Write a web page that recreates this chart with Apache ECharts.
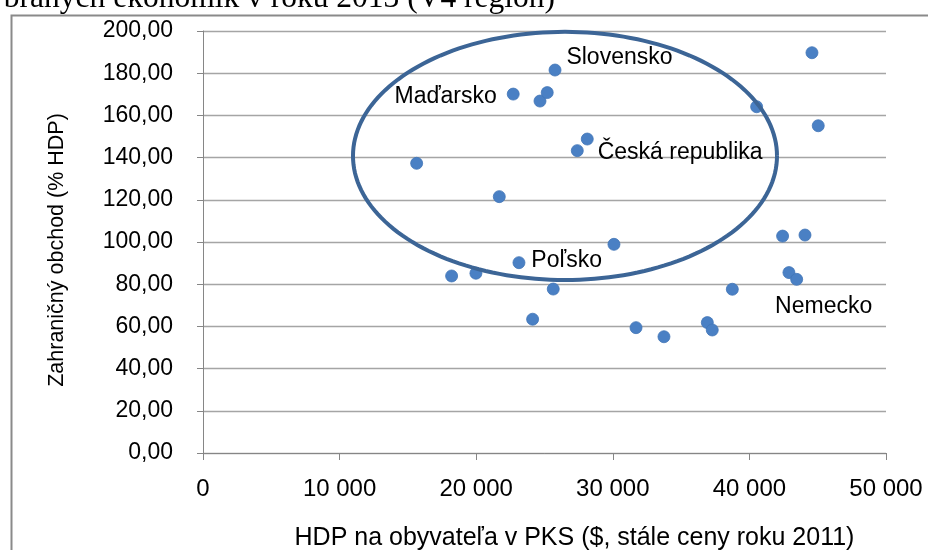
<!DOCTYPE html>
<html>
<head>
<meta charset="utf-8">
<script src="https://cdn.jsdelivr.net/npm/echarts@6/dist/echarts.min.js"></script>
<style>
html,body{margin:0;padding:0;background:#fff;}
#chart{width:928px;height:550px;}
</style>
</head>
<body>
<div id="chart"></div>
<script>
// ---- data ----
const gdpPerCapita = [15640, 18200, 19980, 21690, 22710, 23130, 24130, 24670, 25200, 25640, 25770, 27400, 28130, 30085, 31700, 33745, 36920, 37280, 38750, 40530, 42430, 42895, 43460, 44070, 44580, 45040];
const foreignTrade = [137.3, 83.9, 85.2, 121.5, 170.1, 90.2, 63.4, 166.8, 170.8, 77.7, 181.5, 143.3, 148.8, 98.9, 59.4, 55.1, 61.8, 58.3, 77.6, 164.1, 102.8, 85.5, 82.3, 103.3, 189.7, 155.1];
const pointNames = ['', '', '', '', 'Maďarsko', 'Poľsko', '', '', '', '', 'Slovensko', 'Česká republika', '', '', '', '', '', '', '', '', '', '', 'Nemecko', '', '', ''];
const xTicks = [0, 10000, 20000, 30000, 40000, 50000];
const yTicks = [0, 20, 40, 60, 80, 100, 120, 140, 160, 180, 200];
const titleText = 'vybraných ekonomík v roku 2013 (V4 región)';
const xTitle = 'HDP na obyvateľa v PKS ($, stále ceny roku 2011)';
const yTitle = 'Zahraničný obchod (% HDP)';
// highlighted V4 region (ellipse in data units): centre x, centre y, radius x, radius y
const v4Ellipse = {cx: 26500, cy: 140.8, rx: 15520, ry: 58.8};

// ---- label placement (style) ----
const labelStyle = {
  'Maďarsko': {position: 'left', distance: 10, offset: [0, 3]},
  'Poľsko': {position: 'right', distance: 6, offset: [0, -2]},
  'Slovensko': {position: 'right', distance: 5, offset: [0, -12]},
  'Česká republika': {position: 'right', distance: 14, offset: [0, 2]},
  'Nemecko': {position: 'bottom', distance: 9, offset: [27, 0]}
};

const chart = echarts.init(document.getElementById('chart'), null, {renderer: 'canvas'});
const sans = "'Liberation Sans', Arial, sans-serif";
const gridColor = '#a5a5a5';

const seriesData = gdpPerCapita.map((x, i) => {
  const item = {value: [x, foreignTrade[i]], name: pointNames[i]};
  if (pointNames[i]) {
    const ls = labelStyle[pointNames[i]];
    item.label = Object.assign({show: true, formatter: '{b}', color: '#000', fontFamily: sans, fontSize: 23}, ls);
  }
  return item;
});

const option = {
  animation: false,
  backgroundColor: '#fff',
  grid: {left: 203, right: 42, top: 31, bottom: 97, outerBoundsMode: 'none', containLabel: false},
  xAxis: {
    type: 'value', min: xTicks[0], max: xTicks[xTicks.length - 1], interval: xTicks[1] - xTicks[0],
    axisLine: {show: true, lineStyle: {color: '#868686', width: 1}},
    axisTick: {show: true, length: 7, lineStyle: {color: '#868686'}},
    splitLine: {show: false},
    axisLabel: {
      color: '#000', fontFamily: sans, fontSize: 24, margin: 24,
      formatter: v => String(v).replace(/\B(?=(\d{3})+(?!\d))/g, ' ')
    },
    name: xTitle, nameLocation: 'middle', nameGap: 73,
    nameTextStyle: {color: '#000', fontFamily: sans, fontSize: 25, padding: [0, 0, 0, 60]}
  },
  yAxis: {
    type: 'value', min: yTicks[0], max: yTicks[yTicks.length - 1], interval: yTicks[1] - yTicks[0],
    axisLine: {show: true, lineStyle: {color: '#868686', width: 1}},
    axisTick: {show: true, length: 6, lineStyle: {color: '#868686'}},
    splitLine: {show: true, lineStyle: {color: gridColor, width: 1.3}},
    axisLabel: {
      color: '#000', fontFamily: sans, fontSize: 23, margin: 30,
      formatter: v => v.toFixed(2).replace('.', ',')
    },
    name: yTitle, nameLocation: 'middle', nameGap: 135, nameRotate: 90,
    nameTextStyle: {color: '#000', fontFamily: sans, fontSize: 21.5, padding: [0, 16, 0, 0]}
  },
  series: [{
    type: 'scatter',
    symbol: 'circle',
    symbolSize: 12,
    itemStyle: {color: '#4a80c4', borderColor: '#4175b6', borderWidth: 0.8, opacity: 1},
    data: seriesData,
    z: 3
  }]
};
chart.setOption(option);

// ellipse outline derived from data units through the chart's own scales
const ellipsePts = [];
const N = 180;
for (let k = 0; k <= N; k++) {
  const t = 2 * Math.PI * k / N;
  const p = chart.convertToPixel({gridIndex: 0}, [v4Ellipse.cx + v4Ellipse.rx * Math.cos(t), v4Ellipse.cy + v4Ellipse.ry * Math.sin(t)]);
  ellipsePts.push(p);
}

chart.setOption({
  graphic: [
    {type: 'rect', left: 9, top: 13, shape: {x: 0, y: 0, width: 960, height: 600}, style: {fill: 'none', stroke: '#8a8a8a', lineWidth: 2}, z: 0, silent: true},
    {type: 'text', x: 555, y: 15, style: {text: titleText, align: 'right', verticalAlign: 'bottom', fill: '#000', font: "31.5px 'Liberation Serif', 'Times New Roman', serif"}, z: 10},
    {type: 'polyline', shape: {points: ellipsePts}, style: {fill: 'none', stroke: '#3c6596', lineWidth: 4}, z: 5, silent: true}
  ]
});
</script>
</body>
</html>
